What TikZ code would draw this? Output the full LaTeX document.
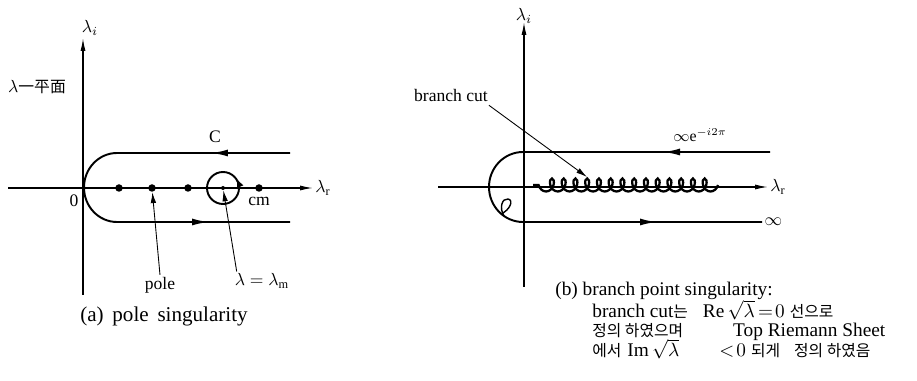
\documentclass[tikz,border=0pt]{standalone}
\usepackage{fontspec}
\setmainfont{Liberation Serif}
\newfontfamily\kr[Scale=0.9]{Noto Sans CJK KR}
\newfontfamily\krs{Noto Sans CJK KR}
\usetikzlibrary{arrows.meta,calc,decorations.pathmorphing}
\newcommand{\hg}[1]{{\krs\fontsize{9}{9}\selectfont #1}}
\begin{document}
\begin{tikzpicture}[x=0.02cm,y=-0.02cm,every node/.style={font=\normalsize,inner sep=1pt},axis/.style={line width=0.7pt,-{Latex[length=2.6mm,width=1mm]}},contour/.style={line width=1.1pt},flow/.style={line width=1.1pt,-{Latex[length=3.4mm,width=1.4mm]}},poledot/.style={circle,fill,inner sep=0pt,minimum size=0.15cm},pointer/.style={line width=0.5pt,-{Latex[length=2.2mm,width=1.1mm]}},cut/.style={line width=1.3pt,decorate,decoration={coil,amplitude=0.13cm,segment length=0.235cm,aspect=0.7}},caption/.style={font=\large},note/.style={anchor=base west,inner sep=0pt,font=\fontsize{11}{11}\selectfont}]
\useasboundingbox (0,0) rectangle (917,381);
\draw[axis] (83,295) -- (83,38) node[above right,xshift=-2pt]{$\lambda_i$};
\draw[axis] (8,188) -- (313,188) node[right]{$\lambda_{\mathrm r}$};
\node (plane) at (37,87) {$\lambda${\kr 一平面}};
\coordinate (AU) at (290,153); \coordinate (AL) at (290,222);
\draw[contour] (AU) -- (117,153) arc[start angle=270,end angle=90,x radius=33,y radius=34.5] -- (AL);
\draw[flow] (AU) -- (211,153); \draw[flow] (117,222) -- (209,222);
\node (clbl) at (215,137) {C};
\foreach \x in {119,152,188,259}{\node[poledot] (p\x) at (\x,188) {};}
\node[circle,fill,inner sep=0pt,minimum size=0.08cm] (pm) at (223,188) {};
\draw[contour] (pm) circle[radius=16];
\draw[line width=0.8pt,-{Latex[length=1.8mm,width=1.4mm]}] (239.5,185) -- (236.5,178.5);
\node (zero) at (74,201) {0};
\node (cm) at (259,201) {cm};
\node (polelbl) at (160,285) {pole};
\draw[pointer] (polelbl.north) -- (p152);
\node (lmlbl) at (262,281) {$\lambda=\lambda_{\mathrm m}$};
\draw[pointer] ($(lmlbl.north west)+(4,0)$) -- (pm);
\node[caption] (capa) at (164,316) {(a)\, pole\, singularity};
\draw[axis] (524,287) -- (524,22) node[above,yshift=-2pt]{$\lambda_i$};
\draw[axis] (438,187) -- (768,187) node[right]{$\lambda_{\mathrm r}$};
\coordinate (BU) at (770,152); \coordinate (BL) at (762,222);
\draw[contour] (BU) -- (523,152) arc[start angle=270,end angle=90,x radius=34,y radius=35] -- (BL) node[right]{$\infty$};
\draw[flow] (BU) -- (663,152); \draw[flow] (523,222) -- (657,222);
\draw[line width=0.8pt] (501,214) .. controls (510,210) and (514,200) .. (508,199) .. controls (502,198) and (499,208) .. (504,216);
\node[font=\small] (inflbl) at (700,135) {$\infty\mathrm{e}^{-i2\pi}$};
\draw[cut] (718,185) -- (533,185);
\node (bclbl) at (451,95) {branch cut};
\coordinate (cuttip) at (587,177);
\draw[pointer] ($(bclbl.south east)+(-1,2)$) -- (cuttip);
\node[note] (capb1) at (555,296) {(b) branch point singularity:};
\node[note] (capb2) at (592,318) {branch cut\hg{는}\hspace{0.3cm}Re\,$\smash{\sqrt{\lambda}}$\,$=\!0$\hspace{0.1cm}\hg{선으로}};
\node[note] (capb3) at (592,337) {\hg{정의 하였으며}\hspace{1.0cm}Top Riemann Sheet};
\node[note] (capb4) at (592,357) {\hg{에서}\hspace{0.12cm}Im\,$\smash{\sqrt{\lambda}}$\hspace{0.8cm}$<\!0$\hspace{0.1cm}\hg{되게}\hspace{0.28cm}\hg{정의 하였음}};
\end{tikzpicture}
\end{document}
